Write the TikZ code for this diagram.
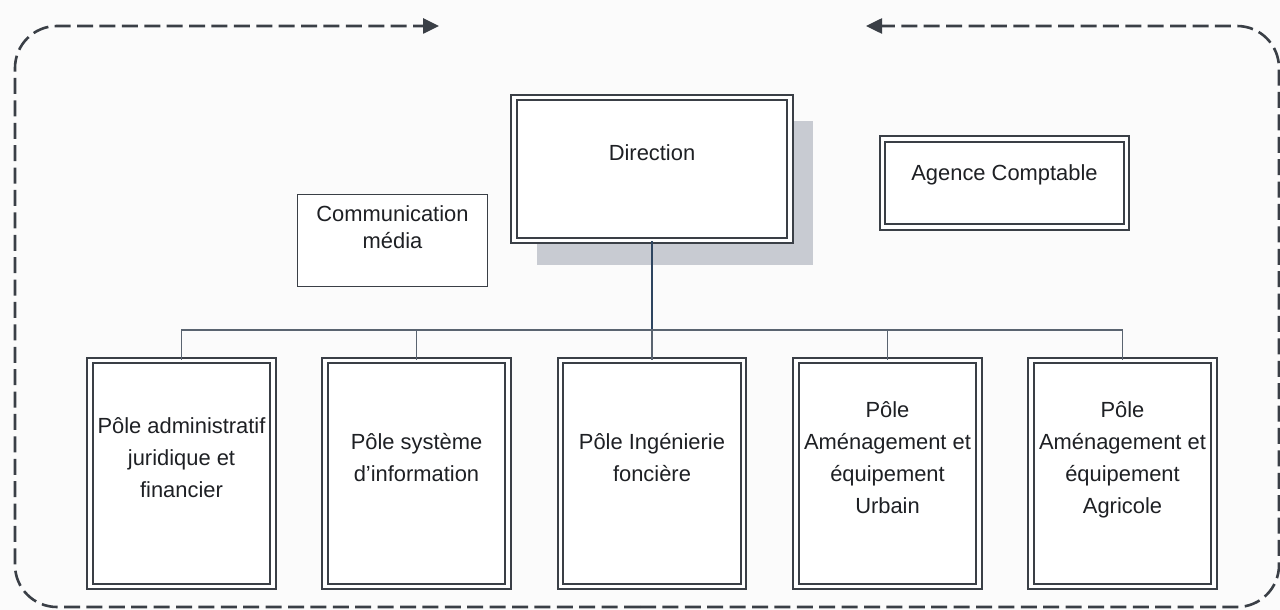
\documentclass[tikz,border=0pt]{standalone}
\usepackage{fontspec}
\setmainfont{Liberation Sans}
\usetikzlibrary{arrows.meta,shadows}
\definecolor{ink}{HTML}{3A3F46}
\definecolor{txt}{HTML}{1E2024}
\definecolor{shade}{HTML}{C8CBD2}
\definecolor{bus}{HTML}{5A6470}
\definecolor{stem}{HTML}{2E4560}
\definecolor{paper}{HTML}{FBFBFB}
\begin{document}
\begin{tikzpicture}[x=0.5pt,y=-0.5pt,
  every node/.style={font=\fontsize{10.95}{16}\selectfont, text=txt},
  dbox/.style={draw=ink, line width=0.9pt, double=white, double distance=1.9pt,
               align=center, inner sep=0pt, fill=white},
  sbox/.style={draw=ink, line width=0.8pt, align=center, inner sep=0pt, fill=white},
  pole/.style={dbox, minimum width=91.5pt, minimum height=113pt},
  frame/.style={draw=ink, line width=1.3pt, dash pattern=on 8pt off 3.2pt,
                rounded corners=21pt, -{Triangle[length=8pt,width=7.5pt]}},
  link/.style={draw=bus, line width=0.8pt}]
\fill[paper] (0,0) rectangle (1280,610);
\useasboundingbox (0,0) rectangle (1280,610);

% dashed frame
\coordinate (fb) at (640,607);
\coordinate (fl) at (15,26);
\coordinate (fr) at (1279,26);
\coordinate (al) at (439,26);
\coordinate (ar) at (866,26);
\draw[frame] (fb) -- (fl |- fb) -- (fl) -- (al);
\draw[frame] (fb) -- (fr |- fb) -- (fr) -- (ar);

% top level
\node[dbox, minimum width=138pt, minimum height=71.5pt,
      general shadow={fill=shade, shadow xshift=11.5pt, shadow yshift=-12pt}]
      (dir) at (652,169) {Direction\\\mbox{}};
\node[sbox, minimum width=95pt, minimum height=46pt,
      font=\fontsize{10.95}{13.4}\selectfont]
      (com) at (392.5,240.5) {Communication\\média\\\mbox{}};
\node[dbox, minimum width=122pt, minimum height=44pt]
      (agc) at (1004.5,183) {Agence Comptable\\[-6pt]\mbox{}};

% poles
\node[pole] (p1) at (181.5,473.5) {Pôle administratif\\juridique et\\financier\\\mbox{}};
\node[pole] (p2) at (416.5,473.5) {Pôle système\\d’information\\\mbox{}};
\node[pole] (p3) at (652,473.5) {Pôle Ingénierie\\foncière\\\mbox{}};
\node[pole] (p4) at (887.5,473.5) {Pôle\\Aménagement et\\équipement\\Urbain\\\mbox{}};
\node[pole] (p5) at (1122.5,473.5) {Pôle\\Aménagement et\\équipement\\Agricole\\\mbox{}};

% connectors
\coordinate (bus) at (652,330);
\draw[draw=stem, line width=0.9pt] (dir.south) -- (dir.south |- bus);
\draw[link] (p1.north) -- (p1.north |- bus) -- (p5.north |- bus) -- (p5.north);
\draw[link] (p2.north) -- (p2.north |- bus);
\draw[link] (p3.north) -- (p3.north |- bus);
\draw[link] (p4.north) -- (p4.north |- bus);
\end{tikzpicture}
\end{document}
